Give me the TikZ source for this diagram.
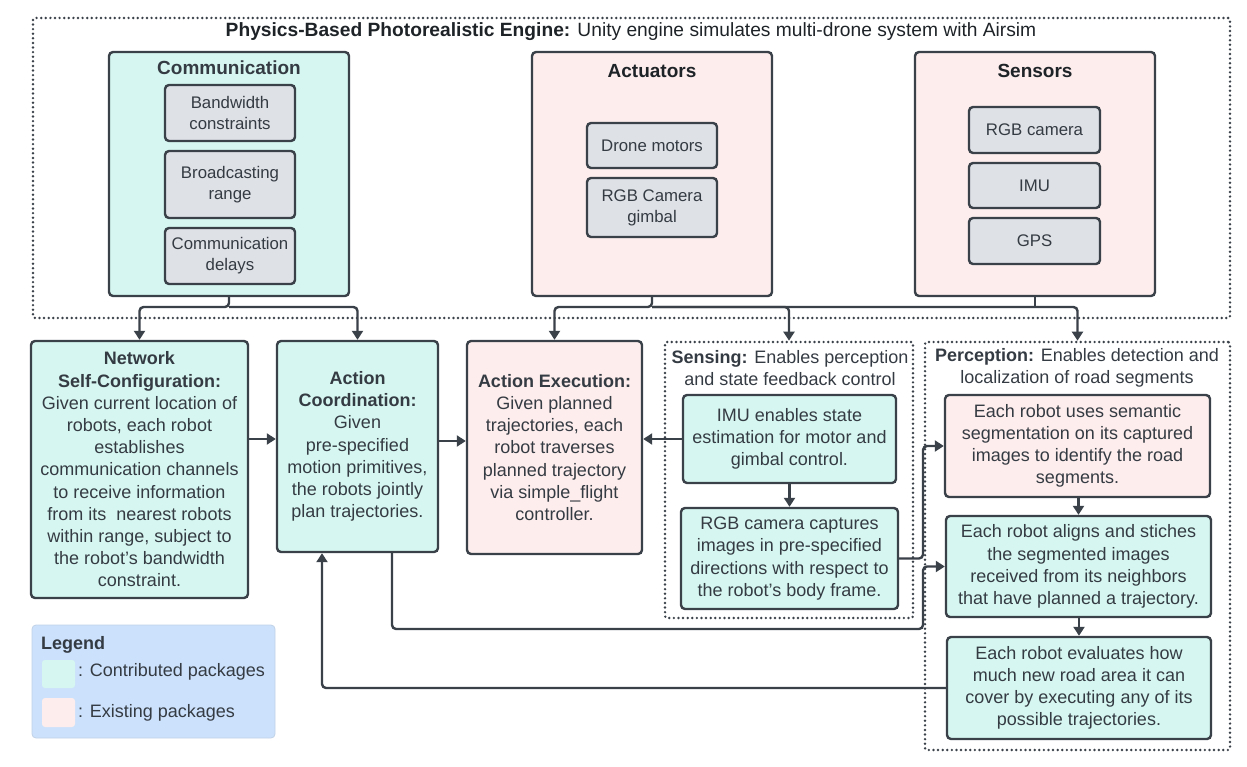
\documentclass[tikz,border=0pt]{standalone}
\usepackage{fontspec}
\setmainfont{Liberation Sans}
\usetikzlibrary{arrows.meta,calc}
\definecolor{edge}{HTML}{3A4149}
\definecolor{bodyc}{HTML}{353B43}
\definecolor{titlec}{HTML}{1E2328}
\definecolor{cyanf}{HTML}{D6F7F1}
\definecolor{pinkf}{HTML}{FDEDEC}
\definecolor{grayf}{HTML}{DEE1E6}
\definecolor{legf}{HTML}{CCE1FB}
\newcommand{\mybody}{\fontsize{18}{22.2}\selectfont}
\newcommand{\mysmall}{\fontsize{16.8}{21}\selectfont}
\newcommand{\mytitle}{\fontsize{19}{22.2}\selectfont\bfseries}
\newcommand{\bx}[7]{\node[#2,minimum width={(#5-#3)*1pt},minimum height={(#6-#4)*1pt}] (#1) at ({(#3+#5)/2},{(#4+#6)/2}) {#7};}
\tikzset{
  box/.style={draw=edge,line width=2.4pt,rounded corners=4pt,inner sep=0pt,align=center,text=bodyc,font=\mybody},
  cy/.style={box,fill=cyanf},
  pk/.style={box,fill=pinkf},
  gr/.style={box,fill=grayf,font=\mysmall},
  dotbox/.style={draw=edge,line width=2.7pt,dash pattern=on 0pt off 4.6pt,line cap=round,rounded corners=2pt,inner sep=0pt},
  conn/.style={draw=edge,line width=2.4pt,rounded corners=4pt},
  arr/.style={conn,-{Triangle[length=9pt,width=11pt]}},
  lbl/.style={inner sep=0pt,align=center,text=bodyc,font=\mybody},
  ttl/.style={inner sep=0pt,align=center,text=titlec,font=\mytitle}
}
\begin{document}
\begin{tikzpicture}[x=1pt,y=-1pt]
\useasboundingbox (0,0) rectangle (1247,767);
% outer engine box
\bx{engine}{dotbox}{33}{18}{1230}{318}{}
\node[inner sep=0pt,text=titlec,font=\fontsize{19.2}{22}\selectfont] (enginet) at (631,32) {\textbf{Physics-Based Photorealistic Engine:} Unity engine simulates multi-drone system with Airsim};
% Communication
\bx{comm}{cy}{109}{52}{349}{296}{}
\node[ttl,text=bodyc] (commt) at (229,68) {Communication};
\bx{bw}{gr}{165}{85}{295}{141}{Bandwidth\\constraints}
\bx{br}{gr}{165}{151}{295}{218}{Broadcasting\\range}
\bx{cd}{gr}{165}{228}{295}{284}{Communication\\delays}
% Actuators
\bx{act}{pk}{532}{52}{772}{296}{}
\node[ttl] (actt) at (652,71) {Actuators};
\bx{dm}{gr}{587}{123}{717}{168}{Drone motors}
\bx{gim}{gr}{587}{178}{717}{237}{RGB Camera\\gimbal}
% Sensors
\bx{sen}{pk}{915}{52}{1155}{296}{}
\node[ttl] (sent) at (1035,71) {Sensors};
\bx{rgbs}{gr}{969}{107}{1100}{153}{RGB camera}
\bx{imus}{gr}{969}{163}{1100}{208}{IMU}
\bx{gps}{gr}{969}{218}{1100}{264}{GPS}
% lower row
\bx{net}{cy}{31}{341}{248}{598}{\textbf{Network}\\\textbf{Self-Configuration:}\\Given current location of\\robots, each robot\\establishes\\communication channels\\to receive information\\from its \ nearest robots\\within range, subject to\\the robot’s bandwidth\\constraint.}
\bx{ac}{cy}{277}{341}{438}{552}{\textbf{Action}\\\textbf{Coordination:}\\Given\\pre-specified\\motion primitives,\\the robots jointly\\plan trajectories.}
\bx{ae}{pk}{467}{341}{642}{554}{\textbf{Action Execution:}\\Given planned\\trajectories, each\\robot traverses\\planned trajectory\\via simple\_flight\\controller.}
% Sensing
\bx{sensing}{dotbox}{665}{342}{913}{618}{}
\node[lbl] (sensingt) at (790,368) {\textbf{Sensing:} Enables perception\\and state feedback control};
\bx{imu}{cy}{683}{395}{896}{483}{IMU enables state\\estimation for motor and\\gimbal control.}
\bx{rgb}{cy}{681}{508}{898}{609}{RGB camera captures\\images in pre-specified\\directions with respect to\\the robot’s body frame.}
% Perception
\bx{perc}{dotbox}{925}{342}{1230}{750}{}
\node[lbl] (perct) at (1077,368) {\textbf{Perception:} Enables detection and\\localization of road segments};
\bx{sem}{pk}{945}{395}{1210}{497}{Each robot uses semantic\\segmentation on its captured\\images to identify the road\\segments.}
\bx{align}{cy}{946}{516}{1211}{617}{Each robot aligns and stiches\\the segmented images\\received from its neighbors\\that have planned a trajectory.}
\bx{eval}{cy}{947}{637}{1211}{739}{Each robot evaluates how\\much new road area it can\\cover by executing any of its\\possible trajectories.}
% Legend
\bx{legend}{box,draw=legf!85!gray,line width=0.8pt,fill=legf}{32}{625}{275}{738}{}
\node[inner sep=0pt,anchor=west,text=bodyc,font=\mybody\bfseries] (legt) at (41,645) {Legend};
\bx{swc}{box,draw=none,fill=cyanf,rounded corners=3pt}{42}{660}{75}{688}{}
\bx{swp}{box,draw=none,fill=pinkf,rounded corners=3pt}{42}{698}{75}{727}{}
\node[lbl,anchor=west] (legc) at (78,672) {: Contributed packages};
\node[lbl,anchor=west] (legp) at (78,713) {: Existing packages};
% top connectors
\coordinate (busC) at (229,307);
\coordinate (busA) at (652,307);
\draw[arr] (comm.south) -- (busC) -| (net.north);
\draw[arr] (busC) -| (ac.north);
\draw[arr] (act.south) -- (busA) -| (ae.north);
\draw[arr] (busA) -| (sensing.north);
\draw[arr] (busA) -| (perc.north);
\draw[conn] (sen.south) -- (sen.south |- busA);
% horizontal arrows
\coordinate (r1) at (0,439);
\coordinate (r2) at (0,441);
\draw[arr] (net.east |- r1) -- (ac.west |- r1);
\draw[arr] (ac.east |- r2) -- (ae.west |- r2);
\draw[arr] (imu.west) -- (ae.east |- imu.west);
\draw[arr] (imu.south) -- (rgb.north -| imu.south);
\draw[arr] (sem.south -| align.north) -- (align.north);
\draw[arr] (align.south -| eval.north) -- (eval.north);
% routed connectors
\coordinate (jx) at (923,0);
\coordinate (lowA) at (0,629);
\draw[arr] (rgb.east) -- (rgb.east -| jx) |- (sem.west);
\coordinate (acout) at ([xshift=34.5pt]ac.south);
\coordinate (acin) at ([xshift=-35.5pt]ac.south);
\draw[arr] (acout) -- (acout |- lowA) -- (jx |- lowA) |- (align.west);
\draw[arr] (eval.west) -- (acin |- eval.west) -- (acin);
\end{tikzpicture}
\end{document}
